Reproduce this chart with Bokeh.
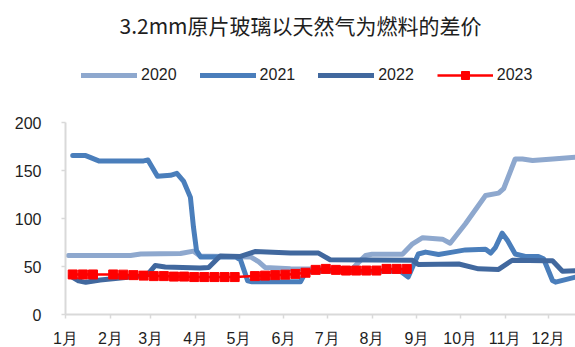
from bokeh.plotting import figure
from bokeh.models import Range1d, FixedTicker, Legend, LegendItem, Label
from bokeh.embed import file_html
from bokeh.resources import INLINE

# ---- data (x = day of year) ----
month_days = [0, 31, 59, 90, 120, 151, 181, 212, 243, 273, 304, 334]
month_labels = ["1月", "2月", "3月", "4月", "5月", "6月", "7月", "8月", "9月", "10月", "11月", "12月"]

d2020 = [2, 45, 52, 79.5, 88.5, 93, 128, 133.5, 138, 155.6, 183, 198.5, 207.5, 212, 233, 240, 247, 260.7, 266, 276.6, 290.5, 299.5, 303, 311, 316, 323, 337, 352.7]
v2020 = [61.5, 61.5, 63, 63.5, 66, 61, 60, 55, 49, 47.6, 47.5, 48, 61.5, 62.7, 62.7, 73.6, 80, 78.5, 74.3, 94.6, 124, 126.4, 131, 162, 162, 160.4, 162, 163.9]

d2021 = [5, 14, 23, 54, 57, 63.6, 72.6, 77, 81.6, 86.4, 88.5, 90.6, 93.4, 117.6, 121, 126, 129, 162.5, 166, 176, 204, 231.7, 237, 244, 249, 258, 267.6, 276.6, 290.5, 294, 297.4, 302, 305.7, 311, 318, 327, 330.6, 336.8, 338.9, 352.7]
v2021 = [165.5, 165.5, 160, 160, 161, 144, 145, 147, 139, 122, 91, 66.7, 60, 60, 57, 35, 34, 34, 44, 45.5, 45, 45, 39, 63, 65, 62.5, 65, 67.3, 68, 64, 70, 84.7, 77, 63, 60.4, 60.4, 58, 35.4, 33.7, 38.9]

d2022 = [3.5, 9, 14, 24, 52, 57, 62, 69, 93, 99, 107, 121, 131, 155.6, 175, 183, 240, 244, 272, 285.6, 299.5, 309, 332, 336.8, 343.7, 352.7]
v2022 = [40, 35, 33.5, 36, 40, 42, 51, 49.5, 48.5, 49, 61, 60.5, 65.5, 64, 64, 57, 56.5, 52, 52.6, 47.6, 47, 56.5, 56, 56, 45, 45.5]

d2023 = [5, 12, 19, 33, 40, 47, 54, 61, 68, 75, 82, 89, 96, 103, 110, 117, 131, 138, 145, 152, 159, 166, 173, 180, 187, 194, 201, 208, 215, 222, 229, 236]
v2023 = [41.7, 41.7, 41.7, 41.7, 41.5, 41, 40.5, 40, 40, 39.5, 39.5, 39, 39, 39, 39, 39, 40, 40.5, 41, 41.5, 42.3, 43.5, 46.5, 47.5, 46.5, 45.8, 45.8, 45.8, 45.8, 47.5, 47.5, 47.5]

y_ticks = [0, 50, 100, 150, 200]
title_text = "3.2mm原片玻璃以天然气为燃料的差价"

c2020, c2021, c2022, c2023 = "#8EA8CE", "#4A7EBB", "#41689E", "#FF0000"
axis_color = "#D9D9D9"
text_color = "#1E1E1E"

W, H = 575, 347
px_per_day = 1.446
px_per_unit = 0.96
x0_px, y0_px = 65, 314  # where day 0 / value 0 sit in figure pixels

p = figure(width=W, height=H, output_backend="svg", toolbar_location=None,
           x_range=Range1d(-x0_px / px_per_day, (W - x0_px) / px_per_day),
           y_range=Range1d(-(H - y0_px) / px_per_unit, y0_px / px_per_unit),
           min_border=0)
p.outline_line_color = None
p.xgrid.visible = False
p.ygrid.visible = False

r20 = p.line(d2020, v2020, line_color=c2020, line_width=5, line_cap="round", line_join="round")
r21 = p.line(d2021, v2021, line_color=c2021, line_width=5, line_cap="round", line_join="round")
r22 = p.line(d2022, v2022, line_color=c2022, line_width=5, line_cap="round", line_join="round")
r23l = p.line(d2023, v2023, line_color=c2023, line_width=2.5)
r23m = p.scatter(d2023, v2023, marker="square", size=9, fill_color=c2023, line_color=c2023)

# axes
for ax in (p.xaxis[0], p.yaxis[0]):
    ax.fixed_location = 0
    ax.axis_line_color = axis_color
    ax.axis_line_width = 2
    ax.major_tick_line_color = axis_color
    ax.major_tick_line_width = 1.5
    ax.major_tick_out = 4
    ax.major_tick_in = 0
    ax.minor_tick_line_color = None
    ax.major_label_text_font = "Liberation Sans"
    ax.major_label_text_font_size = "16px"
    ax.major_label_text_color = text_color

p.xaxis.ticker = FixedTicker(ticks=month_days)
p.xaxis.major_label_overrides = {d: l for d, l in zip(month_days, month_labels)}
p.xaxis.major_label_standoff = 11
p.xaxis.bounds = (0, (W - x0_px) / px_per_day)
p.yaxis.ticker = FixedTicker(ticks=y_ticks)
p.yaxis.major_label_standoff = 20
p.yaxis.bounds = (0, 200)

# legend (location = bottom-left corner, measured from the frame's bottom-left)
legend = Legend(items=[
    LegendItem(label="2020", renderers=[r20]),
    LegendItem(label="2021", renderers=[r21]),
    LegendItem(label="2022", renderers=[r22]),
    LegendItem(label="2023", renderers=[r23l, r23m]),
], orientation="horizontal", location=(81, H - 85))
legend.glyph_width = 56
legend.glyph_height = 20
legend.label_standoff = 4
legend.spacing = 23
legend.padding = 0
legend.margin = 0
legend.border_line_color = None
legend.background_fill_alpha = 0
legend.label_text_font = "Liberation Sans"
legend.label_text_font_size = "16px"
legend.label_text_color = text_color
p.add_layout(legend)

title = Label(x=300, y=H - 24, x_units="screen", y_units="screen", text=title_text,
              text_align="center", text_baseline="middle",
              text_font="Noto Sans CJK SC", text_font_size="21px", text_color=text_color)
p.add_layout(title)

open("out.html", "w").write(file_html(p, INLINE))
